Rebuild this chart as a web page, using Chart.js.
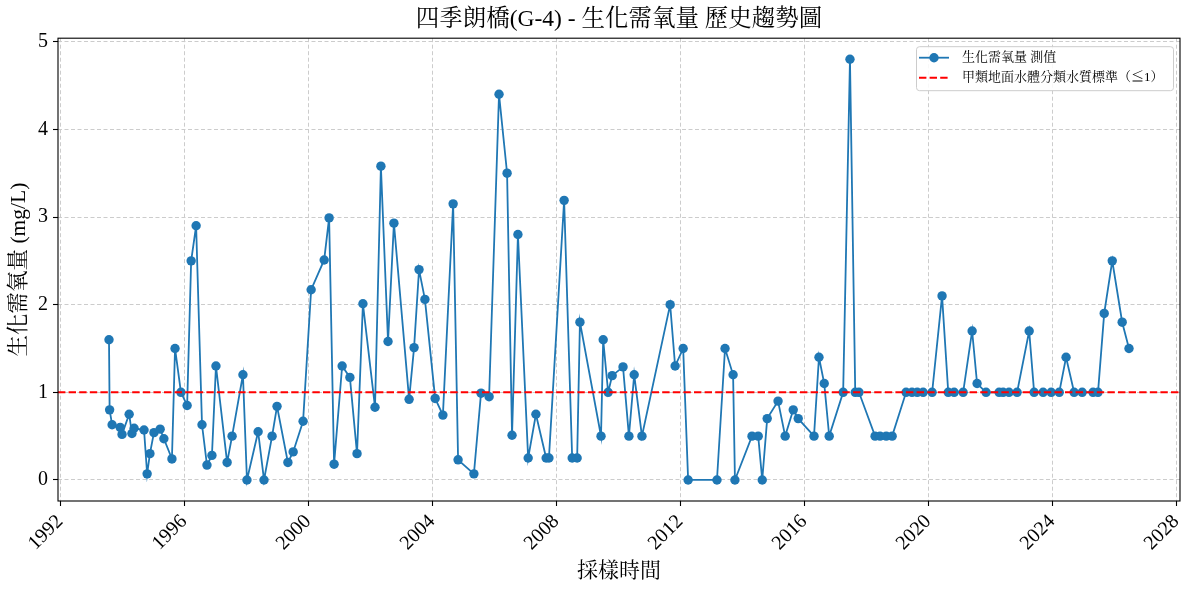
<!DOCTYPE html>
<html>
<head>
<meta charset="utf-8">
<script src="https://cdn.jsdelivr.net/npm/chart.js@4.4.1/dist/chart.umd.min.js"></script>
<style>
html,body{margin:0;padding:0;background:#fff;}
#wrap{width:1189px;height:590px;position:relative;}
</style>
</head>
<body>
<div id="wrap"><canvas id="c" width="1189" height="590"></canvas></div>
<script>
// ---- data (decimal year of sampling, BOD mg/L) ----
const sampleDates = [1993.58,1993.60,1993.68,1993.94,1994.00,1994.23,1994.32,1994.39,1994.71,1994.81,1994.90,1995.03,1995.23,1995.35,1995.61,1995.71,1995.90,1996.10,1996.23,1996.39,1996.58,1996.74,1996.90,1997.03,1997.39,1997.55,1997.90,1998.03,1998.39,1998.58,1998.84,1999.00,1999.35,1999.52,1999.84,2000.10,2000.52,2000.68,2000.84,2001.10,2001.35,2001.58,2001.77,2002.16,2002.35,2002.58,2002.77,2003.26,2003.42,2003.58,2003.77,2004.10,2004.35,2004.68,2004.84,2005.35,2005.58,2005.84,2006.16,2006.42,2006.58,2006.77,2007.10,2007.35,2007.68,2007.77,2008.26,2008.52,2008.68,2008.77,2009.45,2009.52,2009.68,2009.81,2010.16,2010.35,2010.52,2010.77,2011.68,2011.84,2012.10,2012.26,2013.19,2013.45,2013.71,2013.77,2014.32,2014.52,2014.65,2014.81,2015.16,2015.39,2015.65,2015.81,2016.32,2016.48,2016.65,2016.81,2017.26,2017.48,2017.65,2017.77,2018.29,2018.45,2018.65,2018.84,2019.29,2019.48,2019.65,2019.84,2020.13,2020.45,2020.65,2020.84,2021.13,2021.42,2021.58,2021.87,2022.29,2022.42,2022.61,2022.87,2023.26,2023.42,2023.71,2023.97,2024.23,2024.45,2024.71,2024.97,2025.32,2025.48,2025.68,2025.94,2026.26,2026.48];
const bodValues = [1.6,0.8,0.63,0.6,0.52,0.75,0.53,0.59,0.57,0.07,0.3,0.54,0.58,0.47,0.24,1.5,1.0,0.85,2.5,2.9,0.63,0.17,0.28,1.3,0.2,0.5,1.2,0,0.55,0,0.5,0.84,0.2,0.32,0.67,2.17,2.51,2.99,0.18,1.3,1.17,0.3,2.01,0.83,3.58,1.58,2.93,0.92,1.51,2.4,2.06,0.93,0.74,3.15,0.23,0.07,0.99,0.95,4.4,3.5,0.51,2.8,0.25,0.75,0.25,0.25,3.19,0.25,0.25,1.8,0.5,1.6,1.0,1.19,1.29,0.5,1.2,0.5,2.0,1.3,1.5,0,0,1.5,1.2,0,0.5,0.5,0,0.7,0.9,0.5,0.8,0.7,0.5,1.4,1.1,0.5,1.0,4.8,1.0,1.0,0.5,0.5,0.5,0.5,1.0,1.0,1.0,1.0,1.0,2.1,1.0,1.0,1.0,1.7,1.1,1.0,1.0,1.0,1.0,1.0,1.7,1.0,1.0,1.0,1.0,1.4,1.0,1.0,1.0,1.0,1.9,2.5,1.8,1.5];
const xTickValues = [1992,1996,2000,2004,2008,2012,2016,2020,2024,2028];
const yTickValues = [0,1,2,3,4,5];
const standardValue = 1;
const xMin = 1991.935, xMax = 2028.125;
const yMin = -0.24, yMax = 5.04;

const titleText = '四季朗橋(G-4) - 生化需氧量 歷史趨勢圖';
const xTitle = '採樣時間';
const yTitle = '生化需氧量 (mg/L)';
const seriesLabel = '生化需氧量 測值';
const stdLabel = '甲類地面水體分類水質標準（≦1）';

const FONT = "'Liberation Serif','Noto Serif CJK TC','Noto Sans CJK TC',serif";
const BLUE = '#1f77b4';

const framePlugin = {
  id: 'frame',
  afterDatasetsDraw(chart) {
    const {ctx, chartArea: a} = chart;
    ctx.save();
    ctx.strokeStyle = '#000';
    ctx.lineWidth = 1.1;
    ctx.strokeRect(a.left, a.top, a.right - a.left, a.bottom - a.top);
    ctx.restore();
  },
  afterDraw(chart) {
    const {ctx, chartArea: a} = chart;
    // legend box (matplotlib style, upper right)
    const bx = a.right - 264, by = a.top + 8, bw = 257, bh = 44;
    ctx.save();
    ctx.fillStyle = 'rgba(255,255,255,0.85)';
    ctx.strokeStyle = '#cccccc';
    ctx.lineWidth = 1;
    ctx.beginPath();
    if (ctx.roundRect) ctx.roundRect(bx + 0.5, by + 0.5, bw, bh, 3); else ctx.rect(bx + 0.5, by + 0.5, bw, bh);
    ctx.fill(); ctx.stroke();
    const ds = chart.data.datasets;
    const rows = [by + 11.5, by + 31.5];
    const lx0 = bx + 3, lx1 = bx + 33;
    ctx.strokeStyle = ds[0].borderColor; ctx.lineWidth = 1.8; ctx.setLineDash([]);
    ctx.beginPath(); ctx.moveTo(lx0, rows[0]); ctx.lineTo(lx1, rows[0]); ctx.stroke();
    ctx.fillStyle = ds[0].borderColor;
    ctx.beginPath(); ctx.arc((lx0 + lx1) / 2, rows[0], 4.7, 0, Math.PI * 2); ctx.fill();
    ctx.strokeStyle = ds[1].borderColor; ctx.lineWidth = 2; ctx.setLineDash(ds[1].borderDash);
    ctx.beginPath(); ctx.moveTo(lx0, rows[1]); ctx.lineTo(lx1, rows[1]); ctx.stroke();
    ctx.setLineDash([]);
    ctx.fillStyle = '#000';
    ctx.font = "13px " + FONT;
    ctx.textBaseline = 'middle';
    ctx.textAlign = 'left';
    ctx.fillText(ds[0].label, bx + 46, rows[0]);
    ctx.fillText(ds[1].label, bx + 46, rows[1]);
    ctx.restore();
  }
};

const gridOpts = {
  color: '#cccccc',
  lineWidth: 1,
  tickColor: '#000',
  tickLength: 5,
  tickBorderDash: [],
  tickWidth: 1.1
};

new Chart(document.getElementById('c'), {
  type: 'line',
  data: {
    datasets: [
      {
        label: seriesLabel,
        data: sampleDates.map((d, i) => ({x: d, y: bodValues[i]})),
        borderColor: BLUE,
        backgroundColor: BLUE,
        borderWidth: 1.8,
        pointRadius: 4.7,
        pointBorderWidth: 0,
        pointBackgroundColor: BLUE,
        tension: 0,
        order: 2
      },
      {
        label: stdLabel,
        data: [{x: xMin, y: standardValue}, {x: xMax, y: standardValue}],
        borderColor: '#ff0000',
        borderWidth: 2,
        borderDash: [7.4, 3.2],
        pointRadius: 0,
        order: 1
      }
    ]
  },
  plugins: [framePlugin],
  options: {
    responsive: false,
    animation: false,
    devicePixelRatio: 1,
    layout: {padding: {left: 0, right: 9, top: 0, bottom: 0}},
    plugins: {
      legend: {display: false},
      tooltip: {enabled: false},
      title: {
        display: true,
        fullSize: false,
        text: titleText,
        color: '#000',
        font: {family: FONT, size: 23.5, weight: 'normal'},
        padding: {top: 6, bottom: 4}
      }
    },
    scales: {
      x: {
        type: 'linear',
        min: xMin, max: xMax,
        afterBuildTicks: s => { s.ticks = xTickValues.map(v => ({value: v})); },
        afterFit: s => { s.height = 89; s.paddingLeft = 0; s.paddingRight = 0; },
        ticks: {
          color: '#000',
          font: {family: FONT, size: 20},
          minRotation: 45, maxRotation: 45,
          padding: 4,
          autoSkip: false,
          callback: v => String(v)
        },
        grid: gridOpts,
        border: {display: false, dash: [4, 2.5]},
        title: {
          display: true,
          text: xTitle,
          color: '#000',
          font: {family: FONT, size: 21},
          padding: {top: 0, bottom: 6}
        }
      },
      y: {
        type: 'linear',
        min: yMin, max: yMax,
        afterBuildTicks: s => { s.ticks = yTickValues.map(v => ({value: v})); },
        afterFit: s => { s.width = 58; s.paddingTop = 0; s.paddingBottom = 0; },
        ticks: {
          color: '#000',
          font: {family: FONT, size: 20},
          padding: 5,
          callback: v => String(v)
        },
        grid: gridOpts,
        border: {display: false, dash: [4, 2.5]},
        title: {
          display: true,
          text: yTitle,
          color: '#000',
          font: {family: FONT, size: 21.5},
          padding: {top: 6, bottom: 0}
        }
      }
    }
  }
});
</script>
</body>
</html>
